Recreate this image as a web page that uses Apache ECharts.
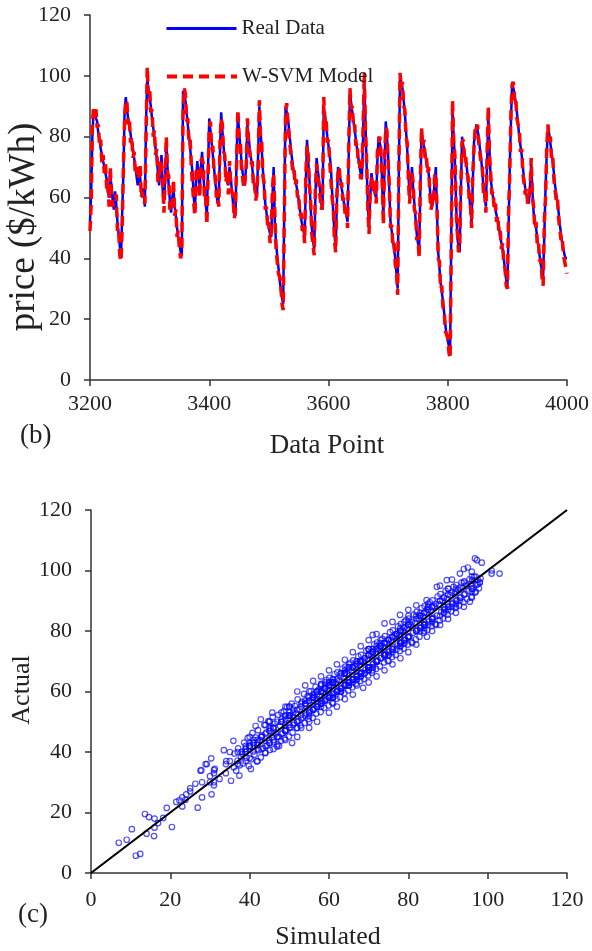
<!DOCTYPE html>
<html><head><meta charset="utf-8">
<script src="https://cdn.jsdelivr.net/npm/echarts@6/dist/echarts.min.js"></script>
<style>html,body{margin:0;padding:0;background:#fff}#c{width:592px;height:951px}</style>
</head><body><div id="c"></div>
<script>
// Data point index axis: first point and spacing
const xStart = 3200, xStep = 2;
// Real price data (every 2nd data point, 3200..4000)
const realData = [
52,62,80,89,88,86,85,81,79,76,74,72,70,68,66,62,60,67,64,59,
56,62,58,52,48,44,40,55,68,88,93,89,86,83,81,78,76,73,70,67,
64,70,67,62,60,63,57,85,99,96,93,90,86,83,80,76,73,68,64,70,
74,62,58,66,78,70,64,59,55,60,63,57,54,50,47,45,42,41,95,94,
92,88,84,80,76,72,68,60,56,66,72,67,63,70,75,68,62,58,54,70,
86,82,78,74,70,65,62,58,60,75,88,82,77,72,68,66,64,70,67,62,
58,56,54,75,87,82,77,72,68,66,64,72,84,80,76,73,70,66,63,61,
60,74,90,82,76,69,63,58,55,52,50,48,47,60,70,52,45,41,37,33,
30,27,25,60,90,88,86,82,78,74,71,68,66,64,62,59,56,53,51,49,
47,65,79,72,66,57,50,46,43,60,73,69,66,62,58,56,90,87,84,80,
77,74,70,62,55,48,43,58,70,68,66,63,61,58,56,54,52,75,95,91,
88,85,82,79,76,73,70,68,66,80,99,85,70,58,50,60,68,65,63,61,
60,72,80,78,76,64,53,70,85,80,74,62,52,49,46,43,40,35,30,68,
100,98,96,92,88,82,76,68,60,64,70,63,58,53,48,45,42,62,81,79,
77,75,72,70,68,63,58,57,60,65,70,55,42,37,32,29,26,22,18,15,
13,11,10,50,89,80,72,58,47,44,42,62,80,77,75,72,70,65,61,56,
52,65,78,81,84,82,80,76,73,68,63,60,57,72,87,76,66,63,60,58,
56,54,52,50,47,45,43,40,36,33,30,50,70,85,98,96,94,91,88,84,
80,77,74,70,66,63,61,60,58,64,71,62,55,52,50,47,44,41,38,36,
34,48,63,74,83,81,78,75,72,68,64,61,58,55,51,48,45,43,41,40,
40];
// W-SVM model output at the same data points
const modelData = [
49,58,84,90,86,89,83,84,77,79,71,74,68,71,63,65,57,70,61,57,
58,59,61,49,50,41,39,50,70,85,92,91,84,86,78,80,73,75,68,70,
66,67,71,60,62,59,58,80,103,94,96,88,89,80,82,74,76,65,67,72,
70,65,55,68,80,68,67,56,58,57,66,54,56,47,49,43,40,42,88,96,
94,85,86,78,79,70,70,58,54,69,70,70,60,72,73,71,60,61,51,67,
83,85,76,77,68,67,60,61,57,78,86,84,75,74,65,69,61,72,64,64,
60,53,56,72,89,80,79,70,70,63,66,70,86,78,78,71,72,64,65,59,
62,70,92,80,78,67,65,56,57,50,52,45,49,63,68,55,43,43,35,34,
31,25,23,55,88,91,84,84,76,76,69,70,64,66,60,61,54,55,49,50,
45,68,77,74,64,59,48,48,41,63,71,71,64,64,56,58,93,85,86,78,
79,72,72,60,57,46,42,61,68,70,64,65,59,60,54,56,50,78,96,89,
90,83,84,77,78,71,72,66,68,83,101,82,72,56,48,63,66,67,61,63,
58,75,78,80,74,66,51,72,83,82,72,64,50,51,44,45,38,36,28,70,
101,96,98,90,89,80,78,66,58,66,68,65,56,55,46,47,40,65,83,77,
79,73,74,68,70,61,56,59,58,67,68,57,40,39,30,31,24,23,16,16,
14,9,7,45,92,78,74,56,49,42,44,64,78,79,73,74,68,67,59,58,
50,68,76,83,82,84,78,78,71,70,61,62,55,75,90,74,68,61,62,56,
58,52,54,48,49,43,45,38,37,31,30,55,68,88,97,98,92,93,86,86,
82,75,76,68,68,61,63,58,60,62,73,60,57,50,52,45,46,39,40,34,
31,52,60,76,84,79,80,73,74,66,66,59,60,53,53,46,47,41,39,37,
35];
// Additional scatter points: sparse tail and band edges (simulated, actual)
const extraSim = [10.3,11.3,12.4,13.6,14.6,15.9,16.9,18.2,19.1,20.4,21.5,22.3,23.8,25,26.3,26.9,27.8,28,29.2,30.4,
 27.6,28.9,30.3,31.2,32.4,33.5,34.1,35.3,35.9,37.4,38.2,39,40.3,41.5,42.8,44,45.7,47.4,49,50.7,
 52,54,56,58,60,62,64,66,68,70,71,72,74,76,77.9,80,82,84.6,87.2,89.7,91,93,
 52,55,57,60,62,64,66,68.6,70,72,74,76,78,80,82,84.7,86,88,90,92,94,95.5,96,
 96.8,97.3,98.5,96,98.2,97.5,95,94,97,
 45,47,50,53,58,61,65,67,73,75,79,81,85,87,90,92,40,42,44,46,48,49];
const extraAct = [14.5,5.7,6.3,19.5,18.5,12.2,16.5,18.2,21.5,15.2,23.5,24,24.2,28,29.5,21.6,34,25,36,26,
 33.8,36,37.9,34.4,31.1,40.6,37,30.5,43.7,32.2,39.3,42,34.4,48.6,50.8,39.8,53,42,55,43,
 60,62,63.5,65,67,69,70.5,73,75,77,78.7,79,82.5,83,85.3,87,88.5,90.2,94.6,96.8,97,99,
 45,48,50,53,55,57.5,59,61.2,63,65,67,69,71,73,75.5,78.1,80,82,84,86,88,89.7,91,
 104,103.4,102.6,99.6,97.4,95.5,101,100.5,93,
 50,42.5,55,48,62.5,56,69,62,77,70,83,76,89,82,94,88,45,37,49,41,53,44];
// Dense core of the cloud in panel (c), [simulated, actual]
const denseCloud = [
[36.2,39.5],[36.6,33.8],[36.9,37.1],[37.1,41.2],[37.5,35.6],[37.8,38.4],[38.3,36.2],[38.6,43.1],[38.9,40.0],
[39.2,38.1],[39.5,44.6],[39.8,35.4],[39.9,41.7],[40.1,42.9],[40.4,37.6],[40.7,46.3],[40.9,40.2],
[41.2,39.1],[41.5,44.8],[41.8,36.9],[41.9,42.3],[42.1,47.2],[42.3,40.6],[42.6,43.9],[42.8,38.2],
[43.1,45.5],[43.4,41.3],[43.7,48.9],[43.9,39.6],[44.2,46.4],[44.4,42.1],[44.7,50.2],[44.9,44.0],
[45.1,40.7],[45.3,47.8],[45.6,44.9],[45.8,51.6],[46.1,43.2],[46.3,49.4],[46.6,46.1],[46.9,41.8],
[47.2,52.3],[47.4,45.0],[47.7,48.6],[47.9,43.7],[48.1,50.9],[48.3,46.2],[48.6,53.4],[48.8,44.5],[48.9,49.0],
[49.2,47.3],[49.4,54.8],[49.7,51.2],[49.9,45.1],[50.1,53.1],[50.3,48.2],[50.6,56.0],[50.8,46.4],[50.9,51.7],
[51.2,49.6],[51.4,55.2],[51.7,52.8],[51.9,47.9],[52.1,57.4],[52.3,50.3],[52.6,54.1],[52.8,48.8],[52.9,52.2],
[53.2,56.6],[53.4,51.4],[53.7,59.2],[53.9,49.6],[54.1,55.3],[54.3,52.7],[54.6,58.4],[54.8,50.9],[54.9,56.8],
[55.2,53.6],[55.4,60.1],[55.7,57.2],[55.9,51.3],[56.1,58.9],[56.3,54.4],[56.6,61.5],[56.8,52.7],[56.9,57.6],
[57.2,55.8],[57.4,60.6],[57.7,58.3],[57.9,53.2],[58.1,62.4],[58.3,56.9],[58.6,59.7],[58.8,54.6],[58.9,61.0],
[59.2,57.5],[59.4,63.8],[59.7,60.2],[59.9,55.4],[60.1,64.5],[60.3,58.6],[60.6,61.9],[60.8,56.3],[60.9,63.1],
[61.2,59.4],[61.4,65.7],[61.7,62.8],[61.9,57.6],[62.1,66.3],[62.3,60.5],[62.6,63.7],[62.8,58.1],[62.9,64.9],
[63.2,61.2],[63.4,67.6],[63.7,64.3],[63.9,59.5],[64.1,68.2],[64.3,62.4],[64.6,65.8],[64.8,60.3],[64.9,66.9],
[65.2,63.1],[65.4,69.5],[65.7,67.0],[65.9,61.4],[66.1,70.3],[66.3,64.2],[66.6,68.4],[66.8,62.6],[66.9,69.1],
[67.2,65.3],[67.4,71.6],[67.7,68.9],[67.9,63.5],[68.1,72.1],[68.3,66.4],[68.6,70.2],[68.8,64.1],[68.9,71.0],
[69.2,67.2],[69.4,73.5],[69.7,70.8],[69.9,65.3],[70.1,74.0],[70.3,68.1],[70.6,72.4],[70.8,66.2],[70.9,73.1],
[71.2,69.3],[71.4,75.6],[71.7,72.9],[71.9,67.5],[72.1,76.2],[72.3,70.4],[72.6,74.3],[72.8,68.3],[72.9,75.0],
[73.2,71.1],[73.4,77.4],[73.7,74.8],[73.9,69.6],[74.1,78.3],[74.3,72.5],[74.6,76.1],[74.8,70.2],[74.9,77.2],
[75.2,73.3],[75.4,79.6],[75.7,76.9],[75.9,71.4],[76.1,80.2],[76.3,74.6],[76.6,78.3],[76.8,72.1],[76.9,79.0],
[77.2,75.2],[77.4,81.5],[77.7,78.8],[77.9,73.4],[78.1,82.3],[78.3,76.4],[78.6,80.1],[78.8,74.2],[78.9,81.2],
[79.2,77.1],[79.4,83.6],[79.7,80.8],[79.9,75.5],[80.1,84.1],[80.3,78.3],[80.6,82.2],[80.8,76.4],[80.9,83.0],
[81.2,79.4],[81.4,85.4],[81.7,82.7],[81.9,77.2],[82.1,86.3],[82.3,80.5],[82.6,84.2],[82.8,78.1],[82.9,85.1],
[83.2,81.3],[83.4,87.6],[83.7,84.8],[83.9,79.4],[84.1,88.2],[84.3,82.4],[84.6,86.1],[84.8,80.3],[84.9,87.0],
[85.2,83.2],[85.4,89.5],[85.7,86.7],[85.9,81.6],[86.1,90.1],[86.3,84.4],[86.6,88.2],[86.8,82.3],[86.9,89.0],
[87.2,85.1],[87.4,91.4],[87.7,88.8],[87.9,83.5],[88.1,92.2],[88.3,86.3],[88.6,90.0],[88.8,84.1],[88.9,91.1],
[89.2,87.2],[89.4,93.3],[89.7,90.6],[89.9,85.4],[90.1,93.9],[90.3,88.1],[90.6,91.8],[90.8,86.5],[90.9,92.7],
[91.2,89.3],[91.4,94.6],[91.7,92.4],[91.9,87.6],[92.1,95.2],[92.3,90.2],[92.6,93.5],[92.8,88.4],[92.9,94.3],
[93.2,91.1],[93.4,96.0],[93.7,94.2],[93.9,89.5],[94.1,96.4],[94.3,92.3],[94.6,95.1],[94.8,90.6],
[95.2,93.2],[95.4,97.1],[95.7,95.6],[95.9,91.3],[96.1,96.8],[96.3,94.0],[96.6,97.9],[96.8,92.7],
[97.2,95.3],[97.5,96.9],[97.8,94.1]];
// 1:1 reference line ends
const diagLine = [0, 120];
const xTicksB = {min: 3200, max: 4000, interval: 200};
const yTicks = {min: 0, max: 120, interval: 20};

const FF = "'Times New Roman','Liberation Serif',serif";
const AX = '#333';
const TXT = '#222';

const realPairs = realData.map((v, i) => [xStart + i * xStep, v]);
const modelPairs = modelData.map((v, i) => [xStart + i * xStep, v]);
const scatterPts = modelData.map((m, i) => [m, realData[i]])
  .concat(extraSim.map((s, i) => [s, extraAct[i]]))
  .concat(denseCloud);

function axisBase(extra) {
  return Object.assign({
    type: 'value',
    axisLine: {show: true, onZero: false, lineStyle: {color: AX, width: 1.5}},
    axisTick: {show: true, length: 6, lineStyle: {color: AX, width: 1.5}},
    splitLine: {show: false}
  }, extra);
}
const lbl = (m) => ({fontSize: 22, fontFamily: FF, color: TXT, margin: m, formatter: v => String(v)});
const legendText = {fontSize: 21, fontFamily: FF, color: TXT};

const chart = echarts.init(document.getElementById('c'), null, {renderer: 'canvas'});
chart.setOption({
  animation: false,
  backgroundColor: '#fff',
  grid: [
    {left: 90, top: 15, width: 477, height: 365},
    {left: 91, top: 510, width: 476, height: 363}
  ],
  xAxis: [
    axisBase({gridIndex: 0, min: xTicksB.min, max: xTicksB.max, interval: xTicksB.interval, axisLabel: lbl(13)}),
    axisBase({gridIndex: 1, min: yTicks.min, max: yTicks.max, interval: yTicks.interval, axisLabel: lbl(16)})
  ],
  yAxis: [
    axisBase({gridIndex: 0, min: yTicks.min, max: yTicks.max, interval: yTicks.interval, axisLabel: lbl(19)}),
    axisBase({gridIndex: 1, min: yTicks.min, max: yTicks.max, interval: yTicks.interval, axisLabel: lbl(19)})
  ],
  legend: [
    {data: ['Real Data'], left: 160, top: 13, itemWidth: 70, itemHeight: 24,
      itemStyle: {opacity: 0}, lineStyle: {width: 3}, textStyle: legendText},
    {data: ['W-SVM Model'], left: 160, top: 61, itemWidth: 70, itemHeight: 24,
      itemStyle: {opacity: 0}, lineStyle: {width: 4}, textStyle: legendText}
  ],
  series: [
    {name: 'Real Data', type: 'line', xAxisIndex: 0, yAxisIndex: 0, data: realPairs,
      symbol: 'none', color: '#0000ff', lineStyle: {color: '#0000ff', width: 2.5}, z: 2},
    {name: 'W-SVM Model', type: 'line', xAxisIndex: 0, yAxisIndex: 0, data: modelPairs,
      symbol: 'none', color: '#ff0000', lineStyle: {color: '#ff0000', width: 3.5, type: [10, 6]}, z: 3},
    {name: 'Actual vs Simulated', type: 'scatter', xAxisIndex: 1, yAxisIndex: 1, data: scatterPts,
      symbol: 'circle', symbolSize: 5.5,
      itemStyle: {color: 'rgba(255,255,255,0)', borderColor: 'rgba(10,10,255,0.9)', borderWidth: 1.2}, z: 2},
    {name: 'diag', type: 'line', xAxisIndex: 1, yAxisIndex: 1,
      data: diagLine.map(v => [v, v]), symbol: 'none',
      lineStyle: {color: '#000', width: 2.2}, z: 4}
  ],
  graphic: [
    {type: 'text', x: 24, y: 227, rotation: Math.PI / 2,
      style: {text: 'price ($/kWh)', font: '37px ' + FF, fill: TXT, textAlign: 'center', textVerticalAlign: 'middle'}},
    {type: 'text', x: 327, y: 446,
      style: {text: 'Data Point', font: '27px ' + FF, fill: TXT, textAlign: 'center', textVerticalAlign: 'middle'}},
    {type: 'text', x: 20, y: 436,
      style: {text: '(b)', font: '27px ' + FF, fill: TXT, textAlign: 'left', textVerticalAlign: 'middle'}},
    {type: 'text', x: 22, y: 690, rotation: Math.PI / 2,
      style: {text: 'Actual', font: '26px ' + FF, fill: TXT, textAlign: 'center', textVerticalAlign: 'middle'}},
    {type: 'text', x: 328, y: 937,
      style: {text: 'Simulated', font: '26px ' + FF, fill: TXT, textAlign: 'center', textVerticalAlign: 'middle'}},
    {type: 'text', x: 18, y: 915,
      style: {text: '(c)', font: '27px ' + FF, fill: TXT, textAlign: 'left', textVerticalAlign: 'middle'}}
  ]
});
</script></body></html>
